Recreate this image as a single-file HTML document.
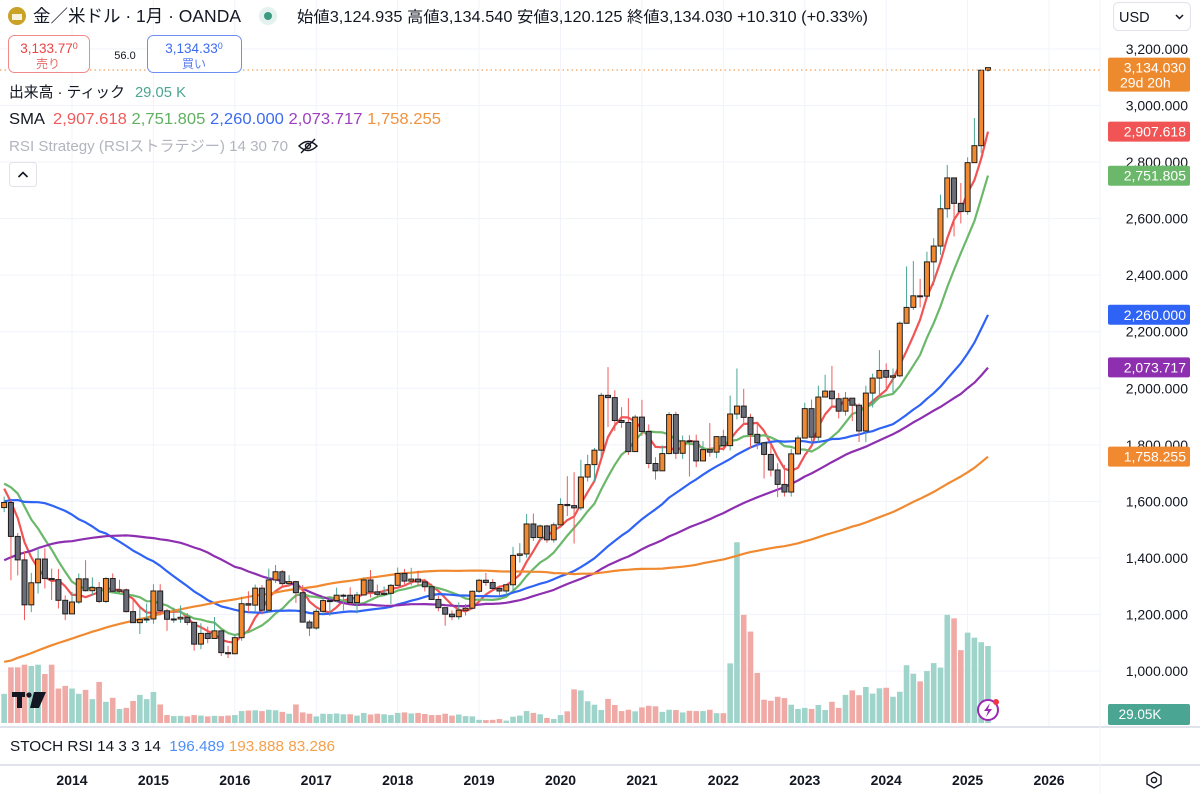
<!DOCTYPE html>
<html><head><meta charset="utf-8">
<style>
html,body{margin:0;padding:0;background:#fff;}
body{width:1200px;height:794px;overflow:hidden;position:relative;font-family:"Liberation Sans","Noto Sans CJK JP",sans-serif;color:#131722;}
svg{position:absolute;left:0;top:0;}
.t{font-family:"Liberation Sans","Noto Sans CJK JP",sans-serif;}
</style></head>
<body>
<svg id="chart" width="1200" height="794" viewBox="0 0 1200 794">
  <defs><clipPath id="pane"><rect x="0" y="0" width="1100" height="726"/></clipPath></defs>
  <g id="grid"></g>
  <g id="vol" clip-path="url(#pane)"></g>
  <g id="smas" clip-path="url(#pane)"></g>
  <g id="candles" clip-path="url(#pane)"></g>
  <line x1="0" y1="70" x2="1100" y2="70" stroke="#f0892f" stroke-width="1" stroke-dasharray="1.5,3"/>
  <g id="axis"></g>
  <g id="xaxis"></g>
  <line x1="0" y1="727" x2="1200" y2="727" stroke="#e0e3eb" stroke-width="2"/>
  <line x1="0" y1="765" x2="1200" y2="765" stroke="#e0e3eb" stroke-width="2"/>
  <line x1="1100" y1="0" x2="1100" y2="794" stroke="#f0f3fa" stroke-width="1"/>

  <g>
    <circle cx="17" cy="16" r="9" fill="#c9a227"/>
    <rect x="12" y="14" width="10" height="6" fill="#fff" opacity="0.85"/>
    <text class="t" x="33" y="22" font-size="17.5" fill="#131722" textLength="208" lengthAdjust="spacingAndGlyphs">金／米ドル · 1月 · OANDA</text>
  </g>
  <circle cx="268" cy="16" r="9" fill="#e3f2ee"/>
  <circle cx="268" cy="16" r="4" fill="#3d9a80"/>
  <text class="t" x="297" y="22" font-size="15.5" fill="#131722" textLength="571" lengthAdjust="spacingAndGlyphs">始値3,124.935  高値3,134.540  安値3,120.125  終値3,134.030  +10.310 (+0.33%)</text>

  <g>
    <rect x="8.5" y="35.5" width="81" height="37" rx="6" fill="#fff" stroke="#f08a8a"/>
    <text class="t" x="49" y="53" font-size="13.5" fill="#e84545" text-anchor="middle">3,133.77<tspan font-size="9" dy="-4">0</tspan></text>
    <text class="t" x="48" y="68" font-size="12" fill="#e86a6a" text-anchor="middle">売り</text>
  </g>
  <text class="t" x="125" y="59" font-size="11" fill="#131722" text-anchor="middle">56.0</text>
  <g>
    <rect x="147.5" y="35.5" width="94" height="37" rx="6" fill="#fff" stroke="#6d8ff5"/>
    <text class="t" x="194" y="53" font-size="13.5" fill="#3d6bf0" text-anchor="middle">3,134.33<tspan font-size="9" dy="-4">0</tspan></text>
    <text class="t" x="194" y="68" font-size="12" fill="#5a7ff0" text-anchor="middle">買い</text>
  </g>
  <text class="t" x="9" y="97" font-size="15" fill="#131722" textLength="177" lengthAdjust="spacingAndGlyphs">出来高 · ティック <tspan fill="#4ba593" dx="6">29.05 K</tspan></text>
  <text class="t" x="9" y="124" font-size="15.5" fill="#131722" textLength="432" lengthAdjust="spacingAndGlyphs">SMA <tspan fill="#f05a5a" dx="4">2,907.618</tspan> <tspan fill="#5fb05f">2,751.805</tspan> <tspan fill="#3d6bf0">2,260.000</tspan> <tspan fill="#9c3fc0">2,073.717</tspan> <tspan fill="#f0923d">1,758.255</tspan></text>
  <text class="t" x="9" y="151" font-size="15" fill="#b2b5be" textLength="279" lengthAdjust="spacingAndGlyphs">RSI Strategy (RSIストラテジー) 14 30 70</text>
  <g fill="none" stroke="#131722" stroke-width="1.4">
    <path d="M299 146 Q308 137 317 146 Q308 155 299 146Z"/><circle cx="308" cy="146" r="2.5"/><line x1="301" y1="153" x2="315" y2="139"/>
  </g>
  <g>
    <rect x="9.5" y="162.5" width="27" height="24" rx="3" fill="#fff" stroke="#e0e3eb"/>
    <path d="M18.5 177 L23 172.5 L27.5 177" fill="none" stroke="#131722" stroke-width="1.6"/>
  </g>
  <g>
    <rect x="1113.5" y="2.5" width="77" height="28" rx="5" fill="#fff" stroke="#e0e3eb"/>
    <text class="t" x="1119" y="22" font-size="14.5" fill="#131722">USD</text>
    <path d="M1176 15 L1179.5 18.5 L1183 15" fill="none" stroke="#131722" stroke-width="1.5"/>
  </g>
  <text class="t" x="10" y="751" font-size="14.5" fill="#131722" textLength="325" lengthAdjust="spacingAndGlyphs">STOCH RSI 14 3 3 14 <tspan fill="#4d8ef7" dx="4">196.489</tspan> <tspan fill="#f5a04a">193.888</tspan> <tspan fill="#f5a04a">83.286</tspan></text>
  <g>
    <rect x="12" y="692" width="13" height="5" fill="#131722"/><rect x="17" y="692" width="5" height="16" fill="#131722"/>
    <circle cx="29" cy="695" r="2.6" fill="#131722"/><path d="M34 692 L46 692 L39 708 L30 708Z" fill="#131722"/>
  </g>
  <g>
    <circle cx="988" cy="710" r="10" fill="#fff" stroke="#9c27b0" stroke-width="2"/>
    <path d="M990 703 L984 711 L988 711 L986 717 L992 709 L988 709Z" fill="#9c27b0"/>
    <circle cx="996" cy="702" r="3" fill="#f23645"/>
  </g>
  <g>
    <path d="M1154 772 L1161 776 L1161 784 L1154 788 L1147 784 L1147 776Z" fill="none" stroke="#131722" stroke-width="1.4"/>
    <circle cx="1154" cy="780" r="2.6" fill="none" stroke="#131722" stroke-width="1.4"/>
  </g>
  <g id="labels"></g>
</svg>
<script>
// monthly closes from 2005-01 to 2025-04
const closes = [
422,434,428,435,417,435,429,433,472,470,495,513,
568,556,582,654,643,614,632,623,599,604,646,632,
650,665,663,680,656,650,666,672,743,790,783,834,
923,972,916,864,885,928,914,833,880,718,814,865,
928,942,916,891,979,927,955,955,1001,1040,1182,1096,
1081,1118,1113,1179,1215,1244,1181,1248,1307,1357,1386,1421,
1332,1409,1439,1556,1536,1500,1628,1826,1620,1722,1746,1564,
1737,1709,1668,1663,1561,1604,1615,1692,1772,1719,1713,1675,
1663,1578,1596,1476,1393,1234,1312,1396,1327,1323,1250,1202,
1244,1326,1284,1295,1246,1327,1282,1287,1210,1171,1182,1184,
1283,1213,1183,1184,1190,1172,1095,1133,1115,1142,1065,1061,
1118,1238,1233,1293,1215,1322,1351,1309,1316,1277,1173,1152,
1211,1249,1249,1268,1268,1242,1269,1322,1280,1271,1275,1303,
1345,1318,1325,1315,1298,1253,1224,1201,1192,1215,1222,1282,
1321,1313,1292,1283,1305,1409,1414,1520,1472,1513,1464,1517,
1589,1585,1577,1686,1730,1781,1975,1967,1886,1879,1776,1898,
1847,1734,1708,1769,1907,1770,1814,1813,1743,1783,1774,1829,
1797,1909,1937,1897,1837,1807,1766,1711,1660,1633,1768,1824,
1928,1827,1969,1990,1963,1919,1965,1940,1849,1983,2036,2063,
2039,2044,2230,2286,2327,2326,2447,2503,2635,2744,2654,2625,
2798,2858,3124.935,3134.03];
// visible months from 2013-03
const highs = [
1617,1605,1488,1424,1347,1434,1434,1362,1361,1267,
1280,1345,1392,1331,1315,1332,1345,1323,1292,1255,1222,1239,
1307,1307,1220,1224,1232,1205,1174,1169,1157,1191,1142,1089,
1128,1263,1282,1306,1304,1362,1375,1357,1339,1317,1304,1181,
1220,1264,1262,1295,1273,1296,1280,1331,1357,1306,1299,1308,
1366,1361,1365,1355,1326,1309,1266,1219,1214,1243,1237,1285,
1326,1347,1325,1302,1305,1439,1452,1555,1557,1518,1517,1525,
1611,1689,1703,1747,1765,1789,1984,2075,1993,1933,1965,1906,
1959,1872,1756,1798,1916,1917,1833,1834,1836,1813,1877,1831,
1853,1974,2070,1998,1910,1879,1789,1807,1735,1729,1786,1833,
1949,1960,2009,2048,2079,1983,1987,1949,1947,2009,2052,2135,
2088,2070,2236,2431,2450,2387,2483,2531,2685,2790,2721,2726,
2817,2956,3128,3134.54];
const lows = [
1562,1321,1338,1180,1208,1274,1292,1251,1221,1180,
1202,1237,1281,1268,1240,1241,1280,1274,1207,1183,1131,1170,
1167,1197,1142,1170,1170,1162,1072,1077,1098,1136,1053,1046,
1062,1107,1208,1208,1200,1206,1311,1296,1302,1241,1171,1124,
1146,1200,1195,1244,1214,1236,1204,1266,1260,1260,1264,1237,
1302,1307,1303,1302,1281,1251,1211,1160,1180,1182,1196,1221,
1276,1301,1281,1266,1266,1281,1383,1401,1460,1463,1453,1454,
1517,1548,1451,1568,1670,1670,1757,1863,1849,1860,1764,1775,
1832,1717,1677,1720,1766,1750,1750,1688,1721,1746,1758,1753,
1780,1780,1890,1872,1787,1785,1681,1688,1615,1617,1617,1765,
1823,1805,1809,1970,1932,1893,1903,1884,1810,1810,1932,1973,
2001,1984,2039,2228,2277,2286,2353,2364,2472,2603,2537,2583,
2614,2832,2833,3120.125];
// tick volume in thousands, from 2013-03
const volumes = [
11,21,21,22,21.5,22,18.5,22,13,14,
13,11,12.5,9,15.5,8,9.5,5.3,5.7,8.3,10.6,9,
11.7,7,3,2.6,2.7,2.5,3,2.8,2.5,2.7,2.6,2.8,
3,4.5,4.7,4.8,4.5,5,4.8,4.2,3.5,7,4,3.5,
2.5,3.5,3.4,3.6,3.3,3.3,2.8,3.8,3.2,3.5,3.3,3,
3.8,4,3.6,3.8,3.4,3,3,3.5,2.8,3.2,2.6,2.5,
1.2,1.1,1.2,1.5,0.9,2.4,2.8,4.5,3.8,3.3,1.9,1.5,
3,4.4,12.7,12.3,8.2,6.9,4.9,9.1,6.8,4.5,5,4.4,
5.9,6.5,6.3,4.2,5,4.9,4,4.6,4.5,4.5,5,3.7,
3.7,22.5,68.2,40.8,34.5,18.9,8.8,8.4,9.9,9.4,6.9,5.3,
5.7,5.3,6.8,4.9,8,5.7,10.6,12.3,10.5,13.6,11.1,13.1,
13.3,9.9,11.8,21.8,18.6,15.7,19.6,22.6,20.9,40.8,39.5,27.5,
34.1,32.2,30.5,29.05];
const smaPeriods = [5, 10, 30, 50, 100];
const priceTicks = [3200,3000,2800,2600,2400,2200,2000,1800,1600,1400,1200,1000];
const yearLabels = ['2014','2015','2016','2017','2018','2019','2020','2021','2022','2023','2024','2025','2026'];

const START = 98;
const NS = 'http://www.w3.org/2000/svg';
const xOf = i => 72 + (i - 10) * 6.785;
const yOf = p => 671 - (p - 1000) * 0.28273;
const yVol = v => 723 - v * 2.65;
function mk(tag, attrs, parent){const e=document.createElementNS(NS,tag);for(const k in attrs)e.setAttribute(k,attrs[k]);parent.appendChild(e);return e;}
const fmt = v => v.toLocaleString('en-US',{minimumFractionDigits:3,maximumFractionDigits:3});

const grid=document.getElementById('grid');
priceTicks.forEach(p=>{
  const l=mk('line',{x1:0,x2:1100,y1:yOf(p),y2:yOf(p),stroke:'#f0f3fa','stroke-width':1},grid);
  
  
});
yearLabels.forEach((y,k)=>{
  const x=xOf(10+12*k);
  const l=mk('line',{x1:x,x2:x,y1:0,y2:726,stroke:'#f0f3fa','stroke-width':1},grid);
  
  
  const t=mk('text',{x:x,y:785,'font-size':14,'font-weight':'bold','text-anchor':'middle',fill:'#131722',class:'t'},document.getElementById('xaxis'));
  t.textContent=y;
  
  
});
const axis=document.getElementById('axis');
priceTicks.forEach(p=>{
  const t=mk('text',{x:1188,y:yOf(p)+5,'font-size':14,'text-anchor':'end',fill:'#131722',class:'t'},axis);
  t.textContent=fmt(p);
  
  
});

const N=highs.length;
const vol=document.getElementById('vol');
for(let i=0;i<N;i++){
  const c=closes[START+i], o=closes[START+i-1];
  const up=c>=o;
  const r=mk('rect',{x:xOf(i)-2.8,y:yVol(volumes[i]),width:5.6,height:723-yVol(volumes[i]),fill:up?'#9fd4cb':'#f0aaa6'},vol);
  
  
}
const smaColors=['#f05454','#6bb86b','#2f63f5','#8e2fb0','#f0892f'];
const smaG=document.getElementById('smas');
smaPeriods.forEach((per,k)=>{
  const pts=[];
  for(let i=0;i<N;i++){
    const j=START+i; const from=Math.max(0,j-per+1);
    let s=0; for(let q=from;q<=j;q++) s+=closes[q];
    pts.push(xOf(i).toFixed(1)+','+yOf(s/(j-from+1)).toFixed(1));
  }
  const pl=mk('polyline',{points:pts.join(' '),fill:'none',stroke:smaColors[k],'stroke-width':2.2,'stroke-linejoin':'round'},smaG);
  
  
});
const cg=document.getElementById('candles');
for(let i=0;i<N;i++){
  const c=closes[START+i], o=closes[START+i-1];
  const up=c>=o, x=xOf(i);
  const w=mk('line',{x1:x,x2:x,y1:yOf(highs[i]),y2:yOf(lows[i]),stroke:up?'#4ba593':'#f05a5a','stroke-width':1},cg);
  
  
  const top=yOf(Math.max(o,c)), bot=yOf(Math.min(o,c));
  const b=mk('rect',{x:x-2.5,y:top,width:5,height:Math.max(1,bot-top),fill:up?'#f0892f':'#6a6d78',stroke:'#1e1e1e','stroke-width':1},cg);
  
  
}
const lab=document.getElementById('labels');
const labelVals=[2907.618,2751.805,2260.000,2073.717,1758.255];
labelVals.forEach((v,k)=>{
  const y=yOf(v);
  const r=mk('rect',{x:1108,y:y-10,width:82,height:20,rx:2,fill:smaColors[k]},lab);
  
  
  const t=mk('text',{x:1186,y:y+5,'font-size':14,'text-anchor':'end',fill:'#fff',class:'t'},lab);
  t.textContent=fmt(v);
});
const lastC=closes[closes.length-1];
const ly=yOf(lastC);
const lr=mk('rect',{x:1108,y:ly-10,width:82,height:34,rx:2,fill:'#ee8a2e'},lab);


const lt=mk('text',{x:1186,y:ly+5,'font-size':14,'text-anchor':'end',fill:'#fff',class:'t'},lab);
lt.textContent=fmt(lastC);
const lt2=mk('text',{x:1120,y:ly+20,'font-size':14,fill:'#fff',class:'t'},lab);
lt2.textContent='29d 20h';
const vr=mk('rect',{x:1108,y:704,width:82,height:21,rx:2,fill:'#4ba593'},lab);


const vt=mk('text',{x:1140,y:719,'font-size':13.5,'text-anchor':'middle',fill:'#fff',class:'t'},lab);
vt.textContent=volumes[N-1].toFixed(2)+'K';
</script>
</body></html>
